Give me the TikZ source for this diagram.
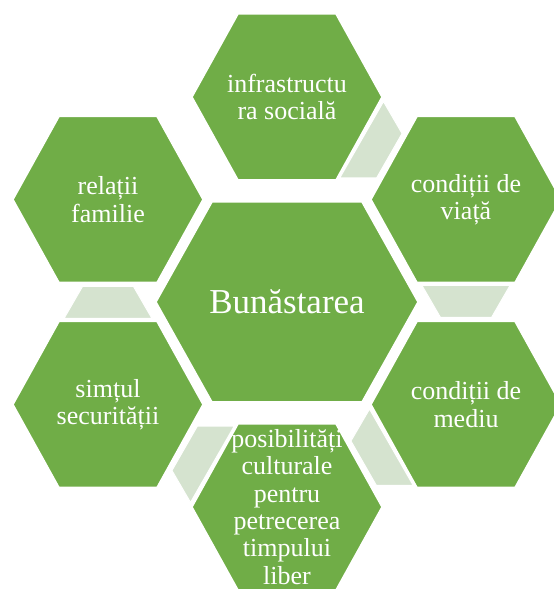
\documentclass[tikz,border=0pt]{standalone}
\usepackage{fontspec}
\setmainfont{Liberation Serif}
\definecolor{hexgreen}{RGB}{112, 173, 71}
\definecolor{linkgreen}{RGB}{213, 227, 207}
\usetikzlibrary{calc, backgrounds}

\begin{document}
\begin{tikzpicture}[x=1pt, y=1pt,
  hexlabel/.style={text=white, align=center, inner sep=0pt, font=\fontsize{26}{27.4}\selectfont},
  hexfill/.style={fill=hexgreen, draw=white, line width=1.5pt},
  link/.style={fill=linkgreen, draw=white, line width=1pt}]
  \useasboundingbox (0,0) rectangle (554,590);

  \node[hexlabel, font=\fontsize{35}{40}\selectfont] (wellbeing) at (287,288) {Bunăstarea};
  \node[hexlabel] (infra) at (287,493) {infrastructu\\ra socială};
  \node[hexlabel] (living) at (466,390.5) {condiții de\\viață};
  \node[hexlabel] (environ) at (466,185.5) {condiții de\\mediu};
  \node[hexlabel] (leisure) at (287,83) {posibilități\\culturale\\pentru\\petrecerea\\timpului\\liber};
  \node[hexlabel] (safety) at (108,185.5) {simțul\\securității};
  \node[hexlabel] (family) at (108,390.5) {relații\\familie};

  \begin{scope}[on background layer]
    % hexagons: name / half width / half top edge / half height
    \foreach \n/\w/\t/\h in {wellbeing/131/75/100, infra/95/49/83, living/95/49/83,
        environ/95/49/83, leisure/95/49/83, safety/95/49/83, family/95/49/83}
      \draw[hexfill, shift={(\n)}] (-\w,0) -- (-\t,\h) -- (\t,\h) -- (\w,0)
        -- (\t,-\h) -- (-\t,-\h) -- cycle;
    % links between neighbours
    \foreach \a/\b in {infra/living, living/environ, environ/leisure, leisure/safety, safety/family}
      \draw[link] ($(\a)!86pt!(\b)!44pt!90:(\b)$) -- ($(\a)!118pt!(\b)!25.5pt!90:(\b)$)
        -- ($(\a)!118pt!(\b)!25.5pt!-90:(\b)$) -- ($(\a)!86pt!(\b)!44pt!-90:(\b)$) -- cycle;
  \end{scope}
\end{tikzpicture}
\end{document}
